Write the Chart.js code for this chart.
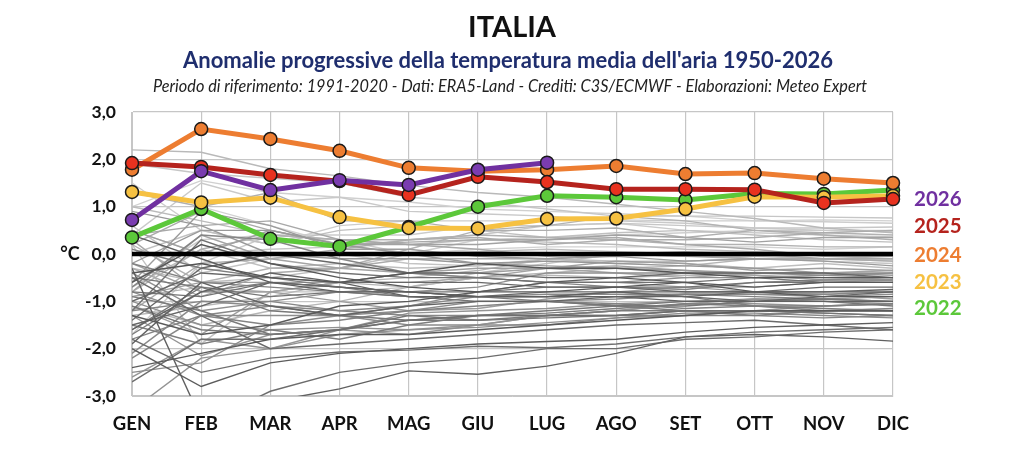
<!DOCTYPE html>
<html>
<head>
<meta charset="utf-8">
<script src="https://cdn.jsdelivr.net/npm/chart.js@4"></script>
<style>
  html, body { margin: 0; padding: 0; background: #fff; }
  #wrap { width: 1024px; height: 452px; }
</style>
</head>
<body>
<div id="wrap"><canvas id="myChart" width="1024" height="452"></canvas></div>
<script>
// testi
var titleText = 'ITALIA';
var subtitleText = "Anomalie progressive della temperatura media dell'aria 1950-2026";
var noteText = 'Periodo di riferimento: 1991-2020 - Dati: ERA5-Land - Crediti: C3S/ECMWF - Elaborazioni: Meteo Expert';

var months = ['GEN', 'FEB', 'MAR', 'APR', 'MAG', 'GIU', 'LUG', 'AGO', 'SET', 'OTT', 'NOV', 'DIC'];

// anni evidenziati (anomalia progressiva, °C)
var y2026 = [0.72, 1.75, 1.35, 1.56, 1.46, 1.78, 1.93];
var y2025 = [1.92, 1.84, 1.67, 1.54, 1.25, 1.63, 1.52, 1.37, 1.37, 1.36, 1.08, 1.16];
var y2024 = [1.78, 2.64, 2.43, 2.18, 1.82, 1.75, 1.78, 1.86, 1.69, 1.71, 1.59, 1.50];
var y2023 = [1.31, 1.09, 1.19, 0.78, 0.55, 0.54, 0.74, 0.75, 0.95, 1.21, 1.20, 1.23];
var y2022 = [0.35, 0.95, 0.32, 0.16, 0.57, 1.00, 1.23, 1.20, 1.14, 1.28, 1.27, 1.35];
var highlightYears = ['2026', '2025', '2024', '2023', '2022'];

// riferimento 1991-2020
var referenceLine = [0, 0, 0, 0, 0, 0, 0, 0, 0, 0, 0, 0];

// anni 1950-2021
var past1950s = [
  [-0.4, -0.2, -0.5, -0.6, -0.4, -0.2, -0.3, -0.3, -0.4, -0.5, -0.5, -0.5],
  [-0.6, 0.2, -0.2, -0.5, -0.7, -0.8, -0.8, -0.7, -0.6, -0.7, -0.6, -0.6],
  [-1.3, -1.7, -1.5, -1.1, -1.0, -0.8, -0.6, -0.5, -0.6, -0.8, -0.9, -0.9],
  [-2.4, -2.1, -1.8, -1.7, -1.7, -1.6, -1.5, -1.4, -1.3, -1.2, -1.2, -1.2],
  [-2.0, -2.8, -2.3, -2.1, -2.0, -1.9, -1.85, -1.8, -1.65, -1.55, -1.5, -1.45],
  [0.4, -0.1, -0.6, -0.8, -0.8, -0.9, -0.9, -0.8, -0.8, -0.8, -0.8, -0.75],
  [-0.3, -3.5, -3.12, -2.85, -2.47, -2.54, -2.37, -2.1, -1.75, -1.7, -1.75, -1.84],
  [-1.6, -0.8, -0.4, -0.6, -0.9, -0.9, -0.9, -0.9, -1.0, -1.0, -1.0, -1.0],
  [-1.9, -0.6, -1.1, -1.3, -1.1, -1.0, -1.0, -0.9, -0.9, -0.8, -0.8, -0.8],
  [-1.5, -1.1, -0.6, -0.7, -0.8, -0.9, -0.8, -0.8, -0.9, -1.0, -0.9, -0.8]
];
var past1960s = [
  [-1.0, -0.4, -0.5, -0.6, -0.6, -0.6, -0.7, -0.7, -0.8, -0.8, -0.7, -0.7],
  [-1.4, -0.3, 0.0, -0.2, -0.4, -0.4, -0.5, -0.5, -0.4, -0.4, -0.4, -0.5],
  [-0.5, -1.3, -2.0, -1.9, -1.8, -1.7, -1.6, -1.5, -1.45, -1.4, -1.5, -1.6],
  [-3.4, -3.6, -2.9, -2.5, -2.3, -2.2, -2.0, -2.0, -1.8, -1.75, -1.65, -1.6],
  [-2.7, -1.8, -1.8, -1.6, -1.4, -1.3, -1.3, -1.3, -1.2, -1.2, -1.2, -1.2],
  [-1.8, -2.5, -2.2, -2.07, -2.03, -1.95, -1.98, -1.9, -1.75, -1.65, -1.6, -1.55],
  [-1.2, 0.3, -0.2, -0.4, -0.5, -0.5, -0.6, -0.6, -0.6, -0.5, -0.6, -0.6],
  [-0.8, -0.9, -0.6, -0.7, -0.8, -0.8, -0.7, -0.7, -0.7, -0.6, -0.6, -0.6],
  [-1.6, -0.7, -0.9, -0.8, -0.9, -1.0, -1.0, -1.1, -1.1, -1.0, -1.0, -1.1],
  [-1.1, -1.6, -1.7, -1.6, -1.3, -1.4, -1.35, -1.3, -1.2, -1.2, -1.25, -1.3]
];
var past1970s = [
  [-0.5, -0.7, -1.2, -1.3, -1.4, -1.3, -1.2, -1.1, -1.0, -1.0, -0.95, -1.0],
  [-0.9, -1.2, -1.7, -1.6, -1.4, -1.4, -1.3, -1.2, -1.2, -1.2, -1.25, -1.3],
  [-1.7, -0.8, -0.6, -0.7, -0.9, -0.9, -1.0, -1.1, -1.2, -1.3, -1.2, -1.2],
  [-1.5, -1.9, -1.6, -1.8, -1.5, -1.3, -1.25, -1.15, -1.05, -1.1, -1.15, -1.2],
  [0.1, -0.3, -0.5, -0.7, -0.8, -0.9, -0.9, -0.8, -0.9, -1.1, -1.1, -1.05],
  [-0.2, -0.6, -0.7, -0.8, -0.9, -0.9, -0.9, -0.9, -0.85, -0.9, -0.95, -1.0],
  [-1.8, -1.3, -1.5, -1.4, -1.2, -1.1, -1.0, -1.05, -1.15, -1.1, -1.2, -1.15],
  [-0.7, 0.4, 0.3, -0.1, -0.4, -0.5, -0.6, -0.7, -0.75, -0.6, -0.55, -0.55],
  [-1.2, -1.0, -1.0, -1.2, -1.3, -1.3, -1.3, -1.3, -1.3, -1.3, -1.35, -1.3],
  [-2.2, -1.3, -1.1, -1.2, -1.1, -0.9, -0.85, -0.85, -0.85, -0.85, -0.85, -0.8]
];
var past1980s = [
  [-2.1, -1.0, -1.1, -1.3, -1.5, -1.5, -1.5, -1.35, -1.25, -1.25, -1.3, -1.35],
  [-2.5, -2.3, -1.5, -1.3, -1.2, -1.0, -1.0, -0.95, -0.85, -0.85, -0.9, -0.85],
  [-0.8, -1.3, -1.3, -1.3, -1.1, -0.8, -0.6, -0.6, -0.5, -0.5, -0.45, -0.4],
  [-0.4, -1.2, -1.0, -0.8, -0.8, -0.7, -0.4, -0.4, -0.4, -0.4, -0.45, -0.5],
  [-1.0, -1.5, -1.6, -1.55, -1.6, -1.55, -1.45, -1.35, -1.3, -1.2, -1.1, -1.05],
  [-3.3, -2.2, -2.0, -1.7, -1.6, -1.5, -1.3, -1.2, -1.05, -1.05, -1.1, -1.05],
  [-1.3, -2.15, -1.7, -1.6, -1.25, -1.2, -1.15, -1.05, -1.0, -0.95, -1.0, -1.05],
  [-2.6, -1.8, -2.0, -1.6, -1.7, -1.5, -1.3, -1.2, -1.05, -0.95, -0.95, -0.9],
  [0.9, 0.6, 0.0, -0.1, -0.1, -0.2, -0.15, -0.2, -0.25, -0.3, -0.4, -0.45],
  [-0.2, 0.5, 0.5, 0.2, 0.0, -0.2, -0.25, -0.3, -0.35, -0.4, -0.4, -0.4]
];
var past1990s = [
  [-0.6, 0.9, 0.6, 0.1, 0.1, -0.05, -0.1, -0.05, -0.15, -0.1, -0.15, -0.25],
  [-1.1, -1.7, -0.8, -1.0, -1.2, -1.15, -0.95, -0.8, -0.7, -0.8, -0.85, -0.95],
  [-0.9, -0.6, -0.6, -0.6, -0.4, -0.4, -0.3, -0.15, -0.2, -0.35, -0.3, -0.35],
  [-0.2, -0.8, -0.8, -0.6, -0.4, -0.3, -0.3, -0.25, -0.35, -0.45, -0.55, -0.5],
  [0.5, 0.0, 0.5, 0.2, 0.2, 0.2, 0.3, 0.4, 0.35, 0.25, 0.35, 0.35],
  [-0.8, 0.4, -0.1, -0.3, -0.4, -0.5, -0.3, -0.4, -0.5, -0.4, -0.4, -0.35],
  [0.3, -0.8, -0.8, -0.6, -0.6, -0.5, -0.6, -0.6, -0.7, -0.7, -0.6, -0.55],
  [0.4, 0.6, 0.7, 0.3, 0.2, 0.1, -0.05, 0.0, -0.05, -0.1, -0.1, -0.1],
  [0.2, 0.9, 0.5, 0.2, 0.25, 0.3, 0.3, 0.35, 0.2, 0.1, -0.05, -0.05],
  [-0.3, -0.9, -0.4, -0.3, -0.1, -0.1, -0.1, 0.0, 0.05, 0.0, -0.1, -0.15]
];
var past2000s = [
  [-1.2, -0.2, -0.1, 0.1, 0.3, 0.35, 0.2, 0.3, 0.3, 0.35, 0.45, 0.5],
  [1.3, 1.0, 1.3, 0.7, 0.7, 0.5, 0.5, 0.55, 0.35, 0.5, 0.4, 0.3],
  [-0.8, 0.1, 0.4, 0.3, 0.3, 0.4, 0.35, 0.3, 0.2, 0.2, 0.15, 0.15],
  [0.2, -0.6, -0.3, -0.3, 0.1, 0.5, 0.6, 0.8, 0.7, 0.5, 0.45, 0.4],
  [-0.9, -0.7, -0.8, -0.6, -0.7, -0.5, -0.4, -0.3, -0.25, -0.1, -0.1, -0.05],
  [-1.1, -1.5, -1.2, -1.0, -0.7, -0.5, -0.45, -0.5, -0.45, -0.45, -0.5, -0.55],
  [-1.3, -1.1, -0.9, -0.6, -0.5, -0.35, -0.1, -0.2, -0.15, -0.1, -0.1, -0.1],
  [2.2, 2.15, 1.8, 1.65, 1.45, 1.3, 1.2, 1.05, 0.9, 0.75, 0.55, 0.45],
  [1.0, 0.7, 0.4, 0.3, 0.2, 0.3, 0.25, 0.2, 0.1, 0.05, 0.0, -0.05],
  [-0.3, -0.6, -0.5, -0.3, 0.0, 0.05, 0.1, 0.05, 0.0, -0.1, -0.1, -0.15]
];
var past2010s = [
  [-0.7, 0.1, -0.3, -0.2, -0.3, -0.25, -0.1, -0.15, -0.2, -0.3, -0.2, -0.3],
  [0.0, 0.5, 0.2, 0.5, 0.6, 0.5, 0.35, 0.45, 0.5, 0.4, 0.3, 0.25],
  [0.2, -1.9, -0.8, -0.8, -0.7, -0.4, -0.2, 0.0, -0.05, -0.05, -0.1, -0.1],
  [0.6, -0.4, -0.1, 0.0, -0.2, -0.25, -0.15, -0.15, -0.15, -0.1, -0.15, -0.2],
  [1.9, 1.7, 1.6, 1.5, 1.2, 1.1, 0.95, 0.8, 0.8, 0.8, 0.78, 0.76],
  [0.5, 0.0, 0.1, 0.15, 0.3, 0.4, 0.6, 0.65, 0.6, 0.55, 0.55, 0.57],
  [0.4, 1.5, 1.1, 1.2, 0.9, 0.85, 0.8, 0.7, 0.65, 0.55, 0.5, 0.47],
  [-1.7, -0.2, 0.4, 0.4, 0.4, 0.6, 0.6, 0.65, 0.5, 0.45, 0.4, 0.36],
  [1.5, 0.5, 0.2, 0.6, 0.7, 0.7, 0.7, 0.72, 0.7, 0.7, 0.68, 0.65],
  [-0.6, 0.3, 0.4, 0.3, 0.0, 0.3, 0.35, 0.4, 0.45, 0.5, 0.5, 0.5]
];
var past2020s = [
  [1.0, 1.55, 1.3, 1.2, 1.1, 0.95, 0.9, 0.85, 0.8, 0.7, 0.72, 0.7],
  [0.3, 1.0, 0.6, 0.2, 0.0, 0.1, 0.15, 0.15, 0.15, 0.15, 0.1, 0.15]
];

var pastYears = [].concat(past1950s, past1960s, past1970s, past1980s, past1990s, past2000s, past2010s, past2020s);

// stili
var lineColors = ['#7030A0', '#B5231D', '#ED7D31', '#F6C142', '#5CC83A'];
var markerColors = ['#7A3CB0', '#E8321F', '#ED7D31', '#F6C142', '#5CC83A'];
var legendColors = ['#7030A0', '#B5231D', '#ED7D31', '#F6C142', '#5CC83A'];
var fontFamily = 'Lato, "Open Sans", sans-serif';

var highlightData = [y2026, y2025, y2024, y2023, y2022];

var datasets = [];
highlightData.forEach(function(values, i) {
  datasets.push({
    label: highlightYears[i],
    data: values,
    borderColor: lineColors[i],
    borderWidth: 5,
    pointRadius: 6.5,
    pointBackgroundColor: markerColors[i],
    pointBorderColor: '#1a1a1a',
    pointBorderWidth: 1.5,
    tension: 0,
    clip: false,
    order: i + 1
  });
});

datasets.push({
  label: '1991-2020',
  data: referenceLine,
  borderColor: '#000',
  borderWidth: 4.5,
  pointRadius: 0,
  clip: 0,
  order: 50
});

pastYears.forEach(function(values, i) {
  // più scuri gli anni vecchi, più chiari quelli recenti
  var g = Math.round(85 + i * (125 / (pastYears.length - 1)));
  datasets.push({
    label: String(1950 + i),
    data: values,
    borderColor: 'rgb(' + g + ',' + g + ',' + g + ')',
    borderWidth: 1.4,
    pointRadius: 0,
    tension: 0,
    clip: 0,
    order: 100 + i
  });
});

var textPlugin = {
  id: 'texts',
  afterDraw: function(chart) {
    var c = chart.ctx;
    c.save();
    c.textAlign = 'center';
    c.textBaseline = 'middle';

    c.fillStyle = '#111';
    c.font = 'bold 29px ' + fontFamily;
    c.fillText(titleText, 512, 28, 92);

    c.fillStyle = '#1F2E6E';
    c.font = 'bold 22px ' + fontFamily;
    c.fillText(subtitleText, 508, 61, 706);

    c.fillStyle = '#222';
    c.font = 'italic 16.5px ' + fontFamily;
    c.fillText(noteText, 510, 87, 714);

    // °C accanto allo zero
    c.fillStyle = '#111';
    c.font = 'bold 18px ' + fontFamily;
    c.fillText('°C', 70, chart.scales.y.getPixelForValue(0));

    // etichette anni a destra
    c.font = 'bold 20.5px ' + fontFamily;
    c.textAlign = 'left';
    var legendY = [199, 226, 255, 282, 308];
    highlightYears.forEach(function(yr, i) {
      c.fillStyle = legendColors[i];
      c.fillText(yr, 914, legendY[i]);
    });
    c.restore();
  }
};

var ctx = document.getElementById('myChart').getContext('2d');
var myChart = new Chart(ctx, {
  type: 'line',
  data: {
    labels: months,
    datasets: datasets
  },
  options: {
    responsive: false,
    animation: false,
    events: [],
    layout: {
      padding: { top: 112, right: 131, left: 0, bottom: 0 }
    },
    plugins: {
      legend: { display: false },
      title: { display: false },
      tooltip: { enabled: false }
    },
    scales: {
      x: {
        offset: false,
        afterFit: function(s) { s.height = 56; },
        grid: { color: '#c6c6c6', lineWidth: 1.2, drawTicks: false },
        border: { color: '#c6c6c6' },
        ticks: {
          padding: 17,
          color: '#111',
          font: { family: fontFamily, size: 18.5, weight: 'bold' },
          maxRotation: 0,
          autoSkip: false
        }
      },
      y: {
        min: -3,
        max: 3,
        afterFit: function(s) { s.width = 132; },
        grid: { color: '#c6c6c6', lineWidth: 1.2, drawTicks: false },
        border: { color: '#c6c6c6' },
        ticks: {
          stepSize: 1,
          padding: 16,
          color: '#111',
          font: { family: fontFamily, size: 17.5, weight: 'bold' },
          callback: function(v) { return v.toFixed(1).replace('.', ','); }
        }
      }
    }
  },
  plugins: [textPlugin]
});
</script>
</body>
</html>
